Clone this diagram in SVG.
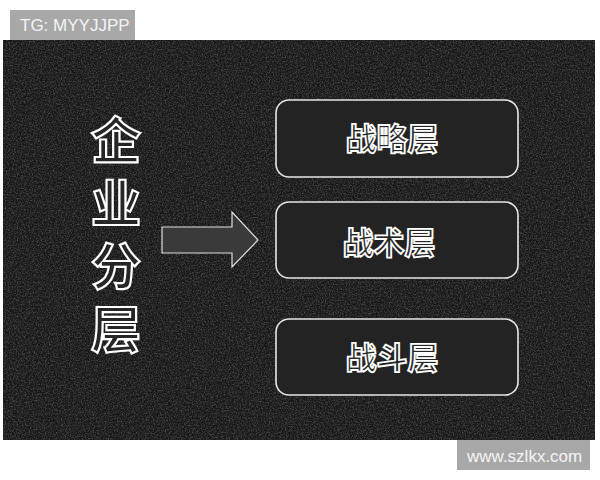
<svg xmlns="http://www.w3.org/2000/svg" width="600" height="480" viewBox="0 0 600 480">
<style>
.tag{fill:#a8a8a8}
.tagt{font-family:"Liberation Sans",Arial,sans-serif;font-size:17px;fill:#f4f4f4}
.box{fill:#232323;stroke:#e6e6e6;stroke-width:1.6}
.cj{font-family:"Noto Sans CJK SC",sans-serif;font-weight:700;fill:#262626;stroke:#ffffff;stroke-width:1.8}
.mid{font-size:31px;text-anchor:middle;dominant-baseline:central}
.big{font-size:50px;stroke-width:2.2;writing-mode:vertical-rl;letter-spacing:13px}
</style>
<defs>
<filter id="noise" x="0" y="0" width="100%" height="100%">
<feTurbulence type="fractalNoise" baseFrequency="0.75" numOctaves="2" seed="3" result="n"/>
<feColorMatrix in="n" type="matrix" values="0 0 0 0 1  0 0 0 0 1  0 0 0 0 1  0 0 0 0.55 -0.22" result="w"/>
<feComposite in="w" in2="SourceGraphic" operator="in"/>
</filter>
</defs>
<rect width="600" height="480" fill="#ffffff"/>
<g id="background">
<rect x="3" y="40" width="592" height="400" fill="#161616"/>
<rect x="3" y="40" width="592" height="400" fill="#161616" filter="url(#noise)"/>
</g>
<g id="tag-top">
<rect class="tag" x="10" y="10" width="125" height="30"/>
<text class="tagt" x="20" y="31">TG: MYYJJPP</text>
</g>
<g id="tag-bottom">
<rect class="tag" x="457" y="440" width="133" height="30"/>
<text class="tagt" x="467" y="462">www.szlkx.com</text>
</g>
<g id="title">
<text class="cj big" x="116" y="115">企业分层</text>
</g>
<g id="connectors">
<polygon points="162,227 232,227 232,212 258,240 232,267 232,253 162,253" fill="#3a3a3a" stroke="#e0e0e0" stroke-width="1.2"/>
</g>
<g id="node-strategy">
<rect class="box" x="276" y="100" width="242" height="77" rx="13"/>
<text class="cj mid" x="392" y="136">战略层</text>
</g>
<g id="node-tactics">
<rect class="box" x="276" y="202" width="242" height="76" rx="13"/>
<text class="cj mid" x="389" y="240">战术层</text>
</g>
<g id="node-combat">
<rect class="box" x="276" y="319" width="242" height="76" rx="13"/>
<text class="cj mid" x="392" y="355">战斗层</text>
</g>
</svg>
